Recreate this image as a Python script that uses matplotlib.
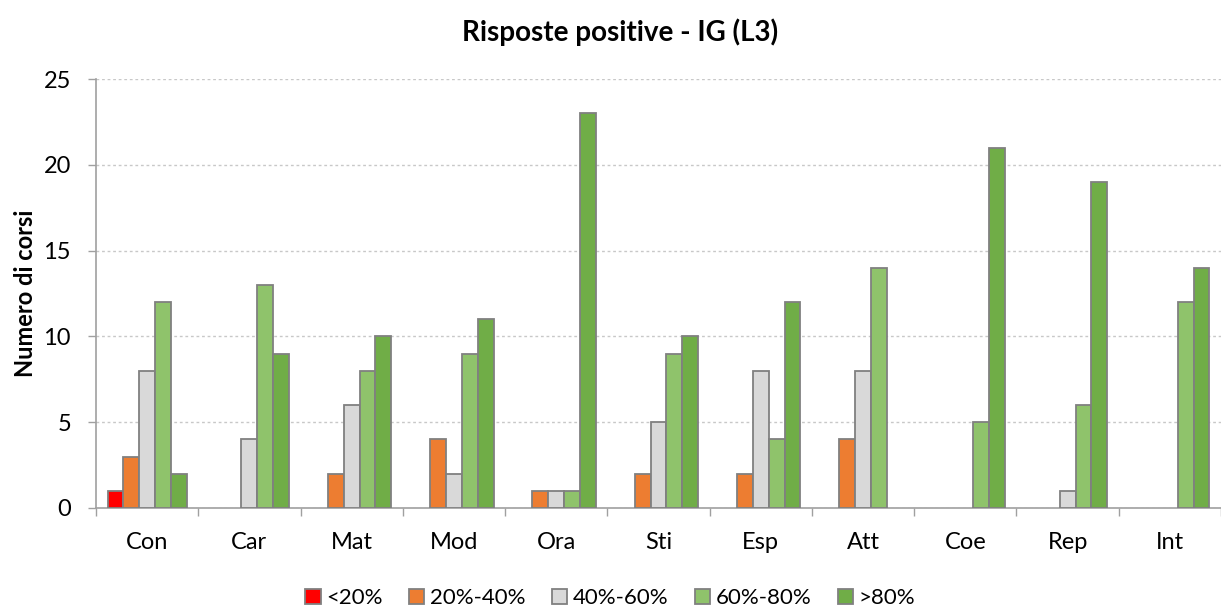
import numpy as np
import matplotlib.pyplot as plt

categorie = ["Con", "Car", "Mat", "Mod", "Ora", "Sti", "Esp", "Att", "Coe", "Rep", "Int"]
fasce = ["<20%", "20%-40%", "40%-60%", "60%-80%", ">80%"]
meno_20 = [1, 0, 0, 0, 0, 0, 0, 0, 0, 0, 0]
da_20_a_40 = [3, 0, 2, 4, 1, 2, 2, 4, 0, 0, 0]
da_40_a_60 = [8, 4, 6, 2, 1, 5, 8, 8, 0, 1, 0]
da_60_a_80 = [12, 13, 8, 9, 1, 9, 4, 14, 5, 6, 12]
oltre_80 = [2, 9, 10, 11, 23, 10, 12, 0, 21, 19, 14]
colori = ["#ff0000", "#ed7d31", "#d9d9d9", "#8fc36b", "#70ad47"]

serie = [meno_20, da_20_a_40, da_40_a_60, da_60_a_80, oltre_80]

plt.rcParams["font.family"] = ["Lato", "DejaVu Sans"]

fig = plt.figure(figsize=(12.21, 6.06), dpi=100)
ax = fig.add_axes([96 / 1221, 98 / 606, 1 - 96 / 1221, 429 / 606])

x = np.arange(len(categorie))
w = 0.155
for i, (valori, nome) in enumerate(zip(serie, fasce)):
    # le barre a zero non si vedono nel grafico originale
    altezze = np.where(np.array(valori) == 0, np.nan, valori)
    ax.bar(x + (i - 2) * w, altezze, width=w, color=colori[i], edgecolor="#808080",
           linewidth=1.3, label=nome, zorder=3)

ax.set_xlim(-0.5, 10.42)
ax.set_ylim(0, 25)
ax.set_yticks([0, 5, 10, 15, 20, 25])
ax.yaxis.grid(True, linestyle=(0, (2, 2)), color="#c8c8c8", linewidth=1, zorder=0)

ax.set_xticks(x)
ax.set_xticklabels(categorie)
ax.set_xticks(np.arange(-0.5, 11, 1), minor=True)
ax.tick_params(axis="x", which="major", length=0, pad=17, labelsize=17, colors="#000000")
ax.tick_params(axis="x", which="minor", length=6, color="#a0a0a0", width=1)
ax.tick_params(axis="y", length=6, color="#a0a0a0", width=1, pad=12, labelsize=17)

for s in ["top", "right"]:
    ax.spines[s].set_visible(False)
for s in ["left", "bottom"]:
    ax.spines[s].set_color("#a0a0a0")
    ax.spines[s].set_linewidth(1.2)

ax.set_ylabel("Numero di corsi", fontsize=17, fontweight="bold", labelpad=5)
fig.text(0.508, 0.947, "Risposte positive - IG (L3)", ha="center", va="center",
         fontsize=20, fontweight="bold")

leg = fig.legend(loc="center", bbox_to_anchor=(0.5, 0.013), ncol=5, frameon=False,
                 fontsize=16, handlelength=0.68, handleheight=0.68, handletextpad=0.25,
                 columnspacing=1.2, borderpad=0)

plt.savefig("out.png", dpi=100)
plt.close()
